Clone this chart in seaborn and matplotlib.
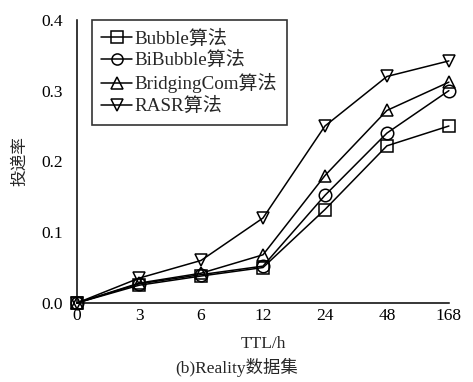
import matplotlib
matplotlib.use("Agg")
import matplotlib.pyplot as plt
import seaborn as sns
import pandas as pd
from matplotlib.lines import Line2D

ttl_labels = ["0", "3", "6", "12", "24", "48", "168"]
bubble = [0.0, 0.025, 0.038, 0.050, 0.132, 0.222, 0.250]
bibubble = [0.0, 0.027, 0.040, 0.052, 0.152, 0.240, 0.300]
bridging = [0.0, 0.028, 0.042, 0.068, 0.180, 0.272, 0.312]
rasr = [0.0, 0.035, 0.060, 0.120, 0.250, 0.320, 0.342]
series_names = ["Bubble算法", "BiBubble算法", "BridgingCom算法", "RASR算法"]
series_vals = [bubble, bibubble, bridging, rasr]
markers = ["s", "o", "^", "v"]

rows = []
for name, vals in zip(series_names, series_vals):
    for i, v in enumerate(vals):
        rows.append({"x": i, "y": v, "algo": name})
df = pd.DataFrame(rows)

sns.set_style("white")
plt.rcParams["font.family"] = ["Liberation Serif", "Noto Sans CJK SC"]
plt.rcParams["axes.unicode_minus"] = False

fig = plt.figure(figsize=(4.73, 3.82), dpi=100)
ax = fig.add_axes([0.163, 0.207, 0.786, 0.741])

sns.lineplot(data=df, x="x", y="y", hue="algo", style="algo",
             palette=["black"] * 4, markers=markers, dashes=False,
             markersize=9, markerfacecolor="none", markeredgecolor="black",
             markeredgewidth=1.1, linewidth=1.1, ax=ax, clip_on=False,
             legend=False)

handles = [Line2D([], [], color="black", lw=1.1, marker=m, markersize=8,
                  markerfacecolor="none", markeredgecolor="black",
                  markeredgewidth=1.1)
           for m in markers]
leg = ax.legend(handles, series_names, loc="upper left",
                bbox_to_anchor=(0.04, 1.0), frameon=True, fancybox=False,
                edgecolor="black", fontsize=13.7, handlelength=1.6,
                handletextpad=0.15, labelspacing=0.2, borderpad=0.5,
                borderaxespad=0.0)
leg.get_frame().set_linewidth(1.2)

ax.set_xlim(0, 6)
ax.set_ylim(0, 0.4)
ax.set_xticks(range(7))
ax.set_xticklabels(ttl_labels)
ax.set_yticks([0.0, 0.1, 0.2, 0.3, 0.4])
ax.set_yticklabels(["0.0", "0.1", "0.2", "0.3", "0.4"])
ax.tick_params(direction="in", length=5, width=1.1, labelsize=12.5,
               colors="black")
ax.tick_params(axis="y", pad=10)
ax.tick_params(axis="x", pad=4)
for s in ["top", "right"]:
    ax.spines[s].set_visible(False)
for s in ["left", "bottom"]:
    ax.spines[s].set_color("black")
    ax.spines[s].set_linewidth(1.1)

ax.set_xlabel("TTL/h", fontsize=12.5, labelpad=8)
ax.set_ylabel("投递率", fontsize=12, labelpad=10)
fig.text(0.5, 0.038, "(b)Reality数据集", ha="center", va="center", fontsize=12.5)

fig.savefig("out.png", dpi=100)
